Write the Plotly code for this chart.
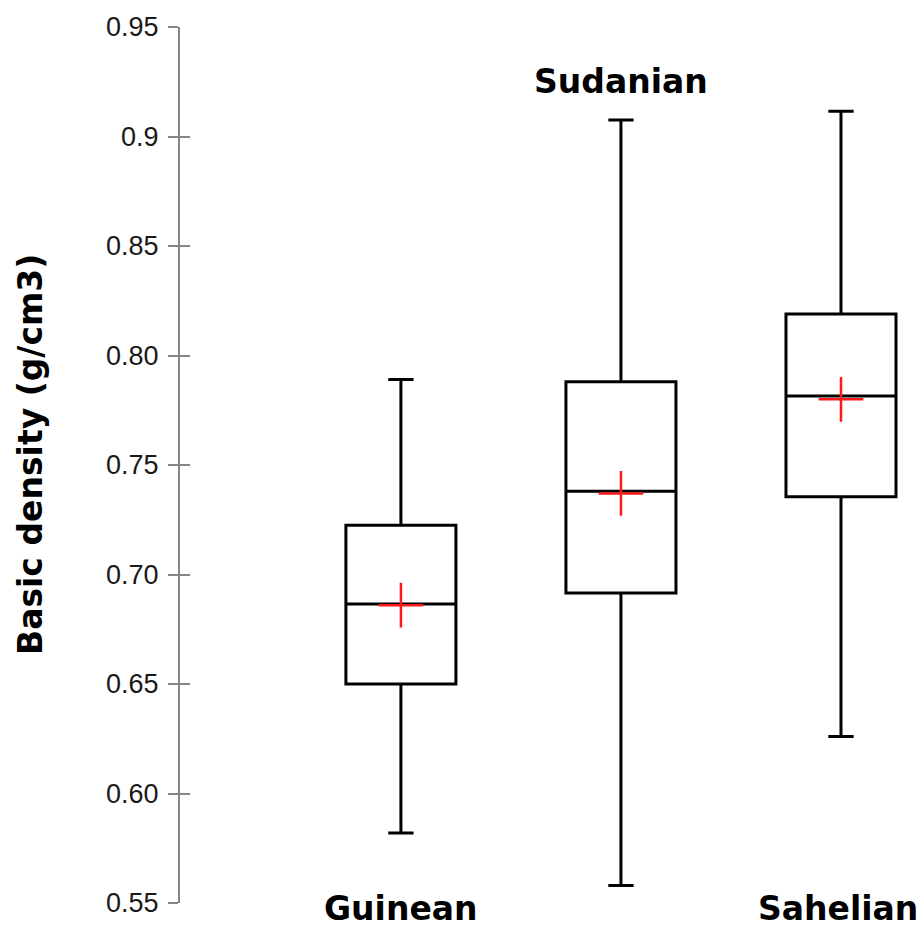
import plotly.graph_objects as go

categories = ["Guinean", "Sudanian", "Sahelian"]
lower_whisker = [0.582, 0.558, 0.626]
q1_values = [0.650, 0.6915, 0.7355]
medians = [0.6865, 0.738, 0.7815]
q3_values = [0.7225, 0.788, 0.819]
upper_whisker = [0.789, 0.9075, 0.9115]
means = [0.686, 0.737, 0.780]
label_y_paper = [-0.0065, 1.0 - 55 / 876, -0.0065]

tick_vals = [0.55, 0.60, 0.65, 0.70, 0.75, 0.80, 0.85, 0.90, 0.95]
tick_text = ["0.55", "0.60", "0.65", "0.70", "0.75", "0.80", "0.85", "0.9", "0.95"]

fig = go.Figure()
for i, c in enumerate(categories):
    fig.add_trace(go.Box(
        x=[c], q1=[q1_values[i]], median=[medians[i]], q3=[q3_values[i]],
        lowerfence=[lower_whisker[i]], upperfence=[upper_whisker[i]],
        width=0.5, whiskerwidth=0.23, fillcolor="white",
        line=dict(color="black", width=3), boxpoints=False,
        showlegend=False, hoverinfo="skip",
    ))

fig.add_trace(go.Scatter(
    x=categories, y=means, mode="markers",
    marker=dict(symbol="cross-thin", size=32, line=dict(color="#ff1a1a", width=2.5)),
    showlegend=False, hoverinfo="skip",
))

for i, c in enumerate(categories):
    fig.add_annotation(x=c, y=label_y_paper[i], xref="x", yref="paper", text="<b>%s</b>" % c,
                       showarrow=False, font=dict(family="DejaVu Sans", size=33, color="black"),
                       xanchor="center", yanchor="middle")
fig.layout.annotations[2].xshift = -3

fig.add_annotation(x=(30 - 180) / 738, y=0.5, yshift=10, xref="paper", yref="paper",
                   text="<b>Basic density (g/cm3)</b>",
                   textangle=-90, showarrow=False, xanchor="center", yanchor="middle",
                   font=dict(family="DejaVu Sans", size=33, color="black"))

axis_color = "#8a8585"
fig.update_layout(
    width=922, height=929,
    margin=dict(l=180, r=4, t=27, b=26),
    paper_bgcolor="white", plot_bgcolor="white",
    xaxis=dict(type="category", categoryorder="array", categoryarray=categories,
               range=[-1.004, 2.35], showticklabels=False, ticks="", showline=False,
               showgrid=False, zeroline=False),
    yaxis=dict(range=[0.55, 0.95], tickvals=tick_vals, ticktext=tick_text,
               ticks="outside", ticklen=10, tickwidth=2, tickcolor=axis_color,
               showline=True, linecolor=axis_color, linewidth=2, showgrid=False,
               zeroline=False, ticklabelstandoff=4,
               tickfont=dict(family="Liberation Sans", size=27, color="#1a1a1a")),
    yaxis2=dict(range=[0.55, 0.95], overlaying="y", side="left", anchor="x",
                tickvals=tick_vals, ticks="inside", ticklen=10, tickwidth=2,
                tickcolor=axis_color, showticklabels=False, showline=False,
                showgrid=False, zeroline=False),
)
fig.add_trace(go.Scatter(x=[categories[0]], y=[0.7], yaxis="y2", mode="markers",
                         marker=dict(opacity=0), showlegend=False, hoverinfo="skip"))

fig.write_html("out.html", config={"displayModeBar": False},
               post_script="document.body.style.margin='0px';")
